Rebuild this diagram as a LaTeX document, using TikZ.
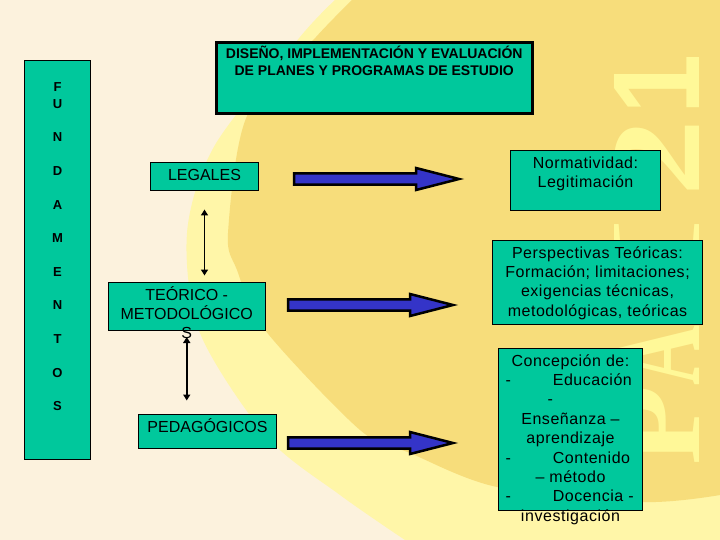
\documentclass[tikz,border=0pt]{standalone}
\usepackage{fontspec}
\setmainfont{Liberation Sans}
\newfontfamily\markfont{Liberation Serif}
\newfontfamily\spacedfont[LetterSpace=3.4]{Liberation Sans}
\usetikzlibrary{arrows.meta,calc}
\definecolor{paper}{HTML}{FCF2DD}
\definecolor{palegold}{HTML}{FFF6A8}
\definecolor{deepgold}{HTML}{F7DD7B}
\definecolor{markgold}{HTML}{FFF898}
\definecolor{boxgreen}{HTML}{00C89C}
\definecolor{arrowblue}{HTML}{3434C8}
\tikzset{
  greenbox/.style={draw=black,fill=boxgreen,line width=1pt,inner sep=0pt,outer sep=0pt,anchor=north west,text=black,font=\fontsize{16}{19.2}\selectfont},
  wordbox/.style={greenbox,font=\spacedfont\fontsize{16}{19.35}\selectfont},
  titlebox/.style={greenbox,line width=3pt,font=\bfseries\fontsize{14}{17}\selectfont},
  bigarrow/.style={draw=black,fill=arrowblue,line width=2.5pt,miter limit=8},
  thinarrow/.style={line width=1.7pt,{Triangle[length=6pt,width=7pt]}-{Triangle[length=6pt,width=7pt]}}
}
% text hanging from the top of a box, free to run out at the bottom
\newcommand{\toptext}[4]{\parbox[c][#2pt][t]{#1pt}{\vspace*{#3pt}\centering #4\par}}
% block arrow from tail to tip
\newcommand{\blockarrow}[2]{\draw[bigarrow] ($(#1)+(0,-5.7)$) -- ($(#2)+(-43,-5.7)$) -- ($(#2)+(-43,-11)$) -- (#2) -- ($(#2)+(-43,11)$) -- ($(#2)+(-43,5.7)$) -- ($(#1)+(0,5.7)$) -- cycle;}
% one stretched letter of the watermark
\newcommand{\markletter}[2]{\resizebox{#1pt}{85pt}{#2}}
\begin{document}
\begin{tikzpicture}[x=1pt,y=-1pt]
\useasboundingbox (0,0) rectangle (720,540);

% Drawing background
\fill[paper] (0,0) rectangle (720,540);
\fill[palegold] plot[smooth] coordinates {(335,0) (300,37) (215,145) (187,233) (200,333) (267,437) (340,495) (405,540)} -- (720,540) -- (720,0) -- cycle;
\fill[deepgold] plot[smooth] coordinates {(352,0) (316,37) (247,116) (228,233) (237,270) (265,330) (360,430) (410,453) (497,487) (643,502) (720,495)} -- (720,0) -- cycle;

% Drawing watermark
\node[rotate=90,inner sep=0pt,text=markgold] (watermark) at (657,260) {\markfont\bfseries
  \markletter{80}{P}\markletter{60}{A}\hspace{15pt}\markletter{93}{I}\hspace{20pt}\markletter{77}{2}\hspace{5pt}\markletter{60}{\setmainfont{Liberation Sans}\normalfont\bfseries 1}};

% Drawing left column
\node[greenbox] (fundamentos) at (24.5,60.5) {\toptext{66}{399}{22}{\bfseries\fontsize{13}{16.8}\selectfont
  F\\U\\[16.8pt]N\\[16.8pt]D\\[16.8pt]A\\[16.8pt]M\\[16.8pt]E\\[16.8pt]N\\[16.8pt]T\\[16.8pt]O\\[16.8pt]S}};

% Drawing title box
\node[titlebox] (diseno) at (216.5,42.5) {\toptext{315.5}{71.5}{4}{DISEÑO, IMPLEMENTACIÓN Y EVALUACIÓN\\DE PLANES Y PROGRAMAS DE ESTUDIO}};

% Drawing middle boxes
\node[greenbox] (legales) at (150.5,162.5) {\toptext{108}{28}{7}{LEGALES}};
\node[greenbox] (teorico) at (108.5,282.5) {\toptext{156.5}{47.5}{4}{TEÓRICO -\\METODOLÓGICO\\S}};
\node[greenbox] (pedagogicos) at (138.5,414.5) {\toptext{138}{34}{4}{PEDAGÓGICOS}};

% Drawing right boxes
\node[wordbox] (normatividad) at (510.5,150.5) {\toptext{150}{60}{6}{Normatividad:\\Legitimación}};
\node[wordbox] (perspectivas) at (492.5,240.5) {\toptext{210}{84}{6}{Perspectivas Teóricas:\\Formación; limitaciones;\\exigencias técnicas,\\metodológicas, teóricas}};
\node[wordbox] (concepcion) at (498.5,348.5) {\toptext{144}{162}{6}{Concepción de:\\
  \makebox[130pt][l]{-\hspace{42pt}Educación}\\
  \makebox[130pt][l]{\hspace{42pt}-}\\
  Enseñanza –\\aprendizaje\\
  \makebox[130pt][l]{-\hspace{42pt}Contenido}\\
  – método\\
  \makebox[130pt][l]{-\hspace{42pt}Docencia -}\\
  investigación}};

% Drawing vertical arrows
\draw[thinarrow,shorten <=19pt,shorten >=7pt] (legales.south) -- (legales.south |- teorico.north);
\draw[thinarrow,shorten <=7pt,shorten >=14pt] (teorico.south) -- (teorico.south |- pedagogicos.north);

% Drawing block arrows
\coordinate (legalesTail) at (294,179);
\coordinate (normatividadTip) at (459,179);
\coordinate (teoricoTail) at (288,305);
\coordinate (perspectivasTip) at (453,305);
\coordinate (pedagogicosTail) at (288,443);
\coordinate (concepcionTip) at (453,443);
\blockarrow{legalesTail}{normatividadTip}
\blockarrow{teoricoTail}{perspectivasTip}
\blockarrow{pedagogicosTail}{concepcionTip}
\end{tikzpicture}
\end{document}
